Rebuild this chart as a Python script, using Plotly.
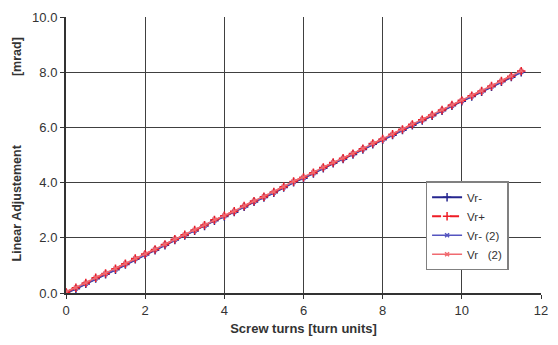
import plotly.graph_objects as go

turns = [0, 0.25, 0.5, 0.75, 1, 1.25, 1.5, 1.75, 2, 2.25, 2.5, 2.75, 3, 3.25, 3.5, 3.75,
         4, 4.25, 4.5, 4.75, 5, 5.25, 5.5, 5.75, 6, 6.25, 6.5, 6.75, 7, 7.25, 7.5, 7.75,
         8, 8.25, 8.5, 8.75, 9, 9.25, 9.5, 9.75, 10, 10.25, 10.5, 10.75, 11, 11.25, 11.5]

vr_minus = [0.00, 0.15, 0.33, 0.52, 0.68, 0.84, 1.03, 1.22, 1.38, 1.55, 1.73, 1.92, 2.08, 2.25,
            2.43, 2.62, 2.77, 2.93, 3.12, 3.30, 3.46, 3.63, 3.82, 4.01, 4.16, 4.33, 4.52, 4.70,
            4.85, 5.02, 5.20, 5.39, 5.55, 5.72, 5.90, 6.08, 6.25, 6.42, 6.60, 6.78, 6.95, 7.12,
            7.29, 7.47, 7.65, 7.82, 8.00]
vr_plus = [0.03, 0.19, 0.36, 0.55, 0.71, 0.88, 1.06, 1.25, 1.41, 1.58, 1.76, 1.95, 2.11, 2.28,
           2.46, 2.65, 2.80, 2.96, 3.15, 3.33, 3.49, 3.66, 3.85, 4.04, 4.19, 4.36, 4.55, 4.73,
           4.88, 5.05, 5.23, 5.42, 5.58, 5.75, 5.93, 6.11, 6.28, 6.45, 6.63, 6.81, 6.98, 7.15,
           7.32, 7.50, 7.68, 7.85, 8.04]
vr_minus2 = [0.01, 0.16, 0.34, 0.53, 0.69, 0.85, 1.04, 1.23, 1.39, 1.56, 1.74, 1.93, 2.09, 2.26,
             2.44, 2.63, 2.78, 2.94, 3.13, 3.31, 3.47, 3.64, 3.83, 4.02, 4.17, 4.34, 4.53, 4.71,
             4.86, 5.03, 5.21, 5.40, 5.56, 5.73, 5.91, 6.09, 6.26, 6.43, 6.61, 6.79, 6.96, 7.13,
             7.30, 7.48, 7.66, 7.83, 8.01]
vr_2 = [0.04, 0.20, 0.37, 0.56, 0.72, 0.89, 1.07, 1.26, 1.42, 1.59, 1.77, 1.96, 2.12, 2.29,
        2.47, 2.66, 2.81, 2.97, 3.16, 3.34, 3.50, 3.67, 3.86, 4.05, 4.20, 4.37, 4.56, 4.74,
        4.89, 5.06, 5.24, 5.43, 5.59, 5.76, 5.94, 6.12, 6.29, 6.46, 6.64, 6.82, 6.99, 7.16,
        7.33, 7.51, 7.69, 7.86, 8.05]

x_ticks = [0, 2, 4, 6, 8, 10, 12]
y_ticks = [0, 2, 4, 6, 8, 10]
y_tick_labels = ["0.0", "2.0", "4.0", "6.0", "8.0", "10.0"]

fig = go.Figure()
fig.add_trace(go.Scatter(x=turns, y=vr_minus, name="Vr-", mode="lines+markers", legendrank=1,
                         line=dict(color="#26268f", width=2),
                         marker=dict(symbol="cross-thin", size=6, line=dict(color="#26268f", width=1.5))))
fig.add_trace(go.Scatter(x=turns, y=vr_minus2, name="Vr- (2)", mode="lines+markers", legendrank=3,
                         line=dict(color="#5555c0", width=1.5),
                         marker=dict(symbol="x-thin", size=4, line=dict(color="#5555c0", width=1.5))))
fig.add_trace(go.Scatter(x=turns, y=vr_plus, name="Vr+", mode="lines+markers", legendrank=2,
                         line=dict(color="#ee1c25", width=2, dash="dash"),
                         marker=dict(symbol="cross-thin", size=6, line=dict(color="#ee1c25", width=1.5))))
fig.add_trace(go.Scatter(x=turns, y=vr_2, name="Vr   (2)", mode="lines+markers", legendrank=4,
                         line=dict(color="#f06a70", width=1.5),
                         marker=dict(symbol="x-thin", size=4, line=dict(color="#f06a70", width=1.5))))

fig.update_layout(
    width=558, height=345,
    margin=dict(l=66, r=10, t=13, b=52),
    plot_bgcolor="white", paper_bgcolor="white",
    font=dict(family="Liberation Sans, Arial, sans-serif", size=13, color="#333333"),
    showlegend=True,
    legend=dict(x=0.757, y=0.405, xanchor="left", yanchor="top",
                bgcolor="white", bordercolor="#808080", borderwidth=1.5,
                font=dict(size=11.5, color="#333333"), tracegroupgap=0,
                traceorder="normal", itemwidth=30),
)
fig.update_xaxes(range=[0, 12], tickvals=x_ticks, showgrid=False,
                 showline=True, linecolor="#333333", linewidth=2,
                 ticks="outside", ticklen=4, tickcolor="#333333",
                 zeroline=False, tickfont=dict(size=13),
                 minor=dict(tickvals=[2, 4, 6, 8, 10], showgrid=True,
                            gridcolor="#404040", gridwidth=1, ticks=""),
                 title=dict(text="<b>Screw turns [turn units]</b>", font=dict(size=13), standoff=7))
fig.update_yaxes(range=[0, 10], tickvals=y_ticks, ticktext=y_tick_labels,
                 showgrid=True, gridcolor="#404040", gridwidth=1,
                 showline=True, linecolor="#333333", linewidth=2,
                 ticks="outside", ticklen=4, tickcolor="#333333",
                 zeroline=False, tickfont=dict(size=13))
fig.add_annotation(text="<b>Linear Adjustement</b>", textangle=-90, xref="paper", yref="paper",
                   x=-0.103, y=0.325, xanchor="center", yanchor="middle", showarrow=False,
                   font=dict(size=12.5, color="#333333"))
fig.add_annotation(text="<b>[mrad]</b>", textangle=-90, xref="paper", yref="paper",
                   x=-0.103, y=0.855, xanchor="center", yanchor="middle", showarrow=False,
                   font=dict(size=12.5, color="#333333"))

fig.write_html("out.html")
